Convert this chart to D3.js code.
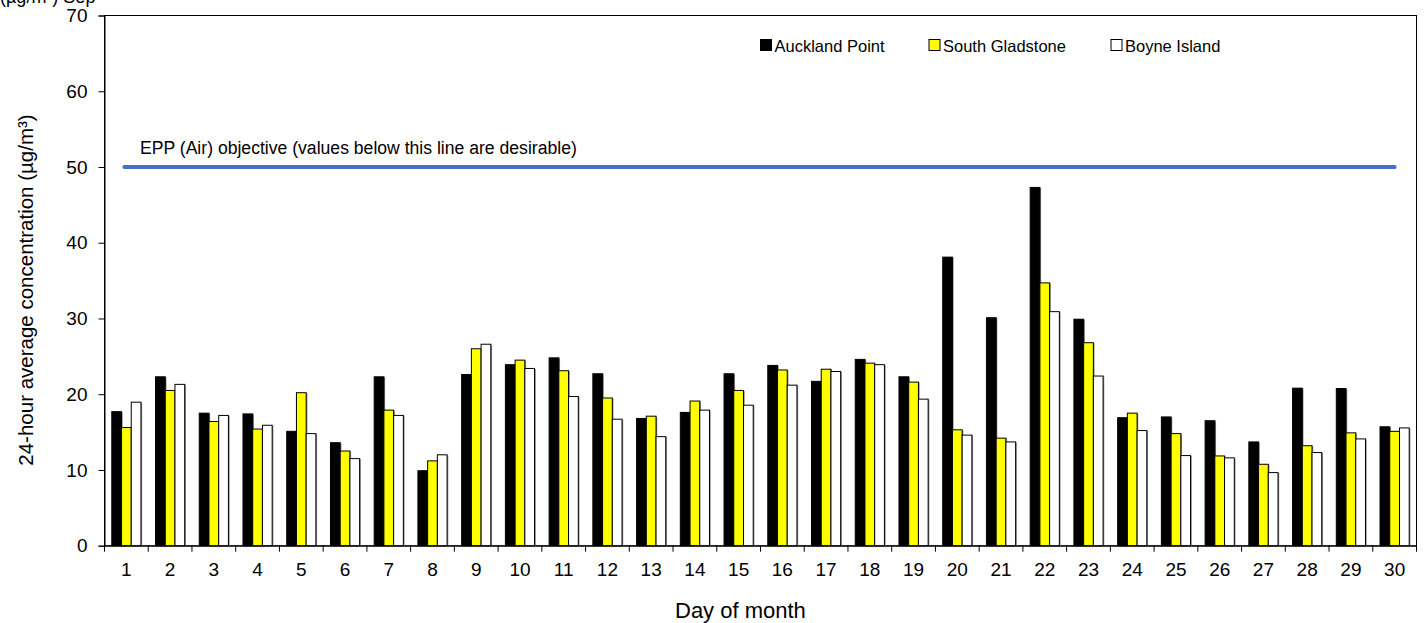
<!DOCTYPE html>
<html><head><meta charset="utf-8">
<script src="https://cdn.jsdelivr.net/npm/d3@7"></script>
<style>body{margin:0;background:#fff}svg{display:block;font-family:"Liberation Sans",Arial,sans-serif}</style>
</head><body>
<svg id="c" width="1427" height="623"></svg>
<script>
const days = d3.range(1, 31).map(String);
const seriesNames = ["Auckland Point", "South Gladstone", "Boyne Island"];
const auckland = [17.7,22.3,17.5,17.4,15.1,13.6,22.3,9.9,22.6,23.9,24.8,22.7,16.8,17.6,22.7,23.8,21.7,24.6,22.3,38.1,30.1,47.3,29.9,16.9,17.0,16.5,13.7,20.8,20.75,15.7];
const southGladstone = [15.6,20.5,16.4,15.4,20.2,12.5,17.9,11.2,26.0,24.5,23.1,19.5,17.1,19.1,20.5,23.2,23.3,24.1,21.6,15.3,14.2,34.7,26.8,17.5,14.8,11.85,10.75,13.2,14.9,15.1];
const boyneIsland = [18.95,21.3,17.2,15.9,14.8,11.5,17.2,12.0,26.6,23.4,19.7,16.7,14.4,17.9,18.55,21.2,23.0,23.9,19.35,14.6,13.7,30.9,22.4,15.2,11.9,11.6,9.65,12.3,14.1,15.55];
const yTicks = [0,10,20,30,40,50,60,70];
const objective = 50;
const objectiveLabel = "EPP (Air) objective (values below this line are desirable)";
const colors = ["#000000", "#ffff00", "#ffffff"];

const values = [auckland, southGladstone, boyneIsland];
const svg = d3.select("#c");
const L = 104.5, R = 1416.5, T = 15.5, B = 545.7;
const FONT = "Liberation Sans, Arial, sans-serif";

const x = d3.scaleBand().domain(days).range([L, R]).paddingInner(0.333).paddingOuter(0.1667);
const xs = d3.scaleBand().domain(seriesNames).range([0, x.bandwidth()]);
const xb = d3.scaleBand().domain(days).range([L, R]);
const y = d3.scaleLinear().domain([0, 70]).range([B, T]);

// top cut-off text (only its bottom is visible in the reference)
svg.append("text").attr("x", 0).attr("y", 3).attr("font-size", 18).attr("fill", "#000").text("(µg/m³) Sep");

// plot border
svg.append("rect").attr("x", L).attr("y", T).attr("width", R - L).attr("height", B - T)
  .attr("fill", "none").attr("stroke", "#000").attr("stroke-width", 1);

// bars
const g = svg.append("g");
days.forEach((d, i) => {
  seriesNames.forEach((s, k) => {
    const v = values[k][i];
    const bx = x(d) + xs(s), bw = xs.bandwidth();
    g.append("rect").attr("x", bx + 1.2).attr("y", y(v) + 0.5).attr("width", bw).attr("height", B - y(v) - 0.5)
      .attr("fill", "#8a8a8a");
    g.append("rect").attr("x", bx).attr("y", y(v)).attr("width", bw).attr("height", B - y(v))
      .attr("fill", colors[k]).attr("stroke", "#000").attr("stroke-width", 1);
  });
});

// objective line
svg.append("line").attr("x1", x(days[0]) + x.bandwidth()/2 - 2).attr("x2", x(days[29]) + x.bandwidth()/2)
  .attr("y1", y(objective)).attr("y2", y(objective))
  .attr("stroke", "#4472C4").attr("stroke-width", 4).attr("stroke-linecap", "round");
svg.append("text").attr("x", 140).attr("y", 154).attr("font-size", 17.6).attr("fill", "#000").text(objectiveLabel);

// y axis
const ya = svg.append("g").attr("transform", `translate(${L},0)`)
  .call(d3.axisLeft(y).tickValues(yTicks).tickSize(6).tickPadding(11).tickFormat(d3.format("d")));
ya.select(".domain").attr("stroke", "#000");
ya.selectAll("text").attr("font-size", 19).attr("font-family", FONT).attr("fill", "#000");

// x axis
const xa = svg.append("g").attr("transform", `translate(0,${B})`)
  .call(d3.axisBottom(xb).tickSize(0).tickPadding(17));
xa.select(".domain").attr("stroke", "#000");
xa.selectAll("text").attr("font-size", 19).attr("font-family", FONT).attr("fill", "#000");
// boundary ticks
svg.append("g").selectAll("line").data(d3.range(0, 31)).join("line")
  .attr("x1", i => L + i * xb.step()).attr("x2", i => L + i * xb.step())
  .attr("y1", B).attr("y2", B + 6).attr("stroke", "#000");

// axis titles
svg.append("text").attr("x", 675).attr("y", 618).attr("font-size", 22).text("Day of month");
svg.append("text").attr("transform", "translate(33,290) rotate(-90)").attr("text-anchor", "middle")
  .attr("font-size", 20.5).text("24-hour average concentration (µg/m³)");

// legend
const legX = [760.5, 929, 1111];
seriesNames.forEach((s, k) => {
  svg.append("rect").attr("x", legX[k]).attr("y", 39.5).attr("width", 11).attr("height", 11)
    .attr("fill", colors[k]).attr("stroke", "#000").attr("stroke-width", 1);
  svg.append("text").attr("x", legX[k] + 14).attr("y", 51.5).attr("font-size", 16.5).text(s);
});
</script>
</body></html>
